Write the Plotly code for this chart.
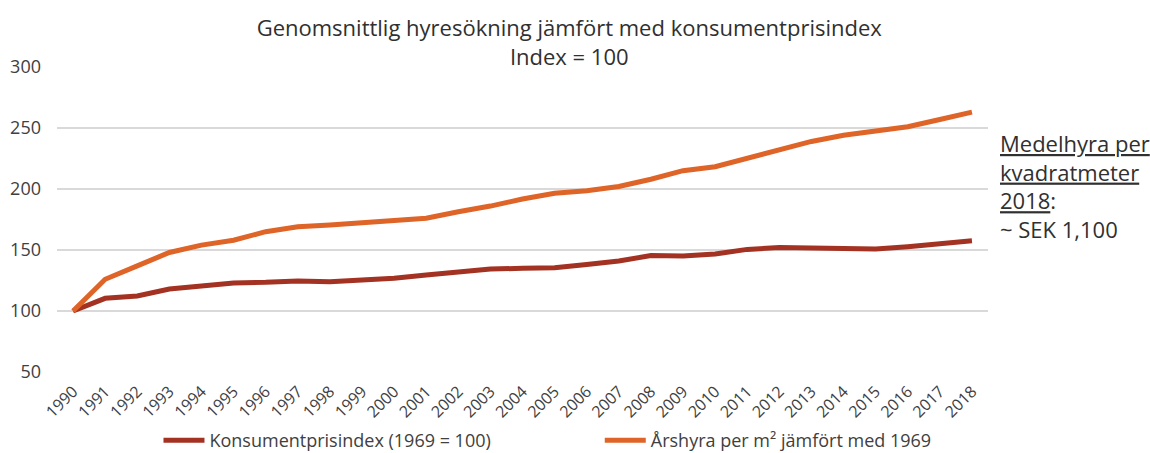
import plotly.graph_objects as go

years = [str(y) for y in range(1990, 2019)]

kpi = [100, 110.4, 112.3, 118, 120.5, 123, 123.5, 124.6, 124, 124.9,
       126.8, 129.5, 132.2, 134.4, 135, 135.5, 138.2, 141, 145.4, 145,
       146.7, 150.5, 152, 151.4, 150.8, 150.8, 152.7, 155, 157.6]

arshyra = [100, 126, 137, 148, 154, 158, 165, 169, 170.5, 172,
           174, 176, 181.4, 186, 191.8, 196.5, 198.6, 202, 208, 215,
           218.3, 225, 232.5, 239, 244, 248, 251, 257, 263]

y_ticks = [50, 100, 150, 200, 250, 300]

FONT = "Open Sans"
TEXT = "#404040"

fig = go.Figure()
fig.add_trace(go.Scatter(
    x=years, y=kpi, mode="lines", name="Konsumentprisindex (1969 = 100)",
    line=dict(color="#A33222", width=5), legend="legend",
))
fig.add_trace(go.Scatter(
    x=years, y=arshyra, mode="lines", name="Årshyra per m² jämfört med 1969",
    line=dict(color="#DE6428", width=5), legend="legend2",
))

legend_common = dict(
    orientation="h", yanchor="middle", y=-0.225, itemwidth=41,
    font=dict(family=FONT, size=18, color=TEXT),
    bgcolor="rgba(0,0,0,0)",
)

fig.update_layout(
    width=1150, height=453,
    margin=dict(l=57, r=162, t=67, b=81, autoexpand=False),
    paper_bgcolor="white", plot_bgcolor="white",
    font=dict(family=FONT, color=TEXT, size=15),
    title=dict(
        text="Genomsnittlig hyresökning jämfört med konsumentprisindex<br>Index = 100",
        x=0.495, xanchor="center", xref="container",
        y=1 - 36 / 453, yanchor="middle", yref="container",
        font=dict(family=FONT, size=22, color="#303030"),
    ),
    showlegend=True,
    legend=dict(x=0.109, xanchor="left", **legend_common),
    legend2=dict(x=0.583, xanchor="left", **legend_common),
    xaxis=dict(
        type="category", range=[-0.5, len(years) - 0.5], tickangle=-45,
        showgrid=False, showline=False, ticks="", ticklabelstandoff=6,
        tickfont=dict(family=FONT, size=16, color=TEXT), automargin=False,
    ),
    yaxis=dict(
        range=[50, 300], tickvals=y_ticks, showgrid=True, gridcolor="#D9D9D9",
        gridwidth=1.5, zeroline=False, showline=False, ticks="",
        ticklabelstandoff=15,
        tickfont=dict(family=FONT, size=18, color=TEXT), automargin=False,
    ),
    annotations=[dict(
        xref="paper", yref="paper", x=1.0107, y=0.611, xanchor="left", yanchor="middle",
        align="left", showarrow=False,
        text="<u>Medelhyra per</u><br><u>kvadratmeter</u><br><u>2018</u>:<br>~ SEK 1,100",
        font=dict(family=FONT, size=22, color="#303030"),
    )],
)

fig.write_html("out.html")
